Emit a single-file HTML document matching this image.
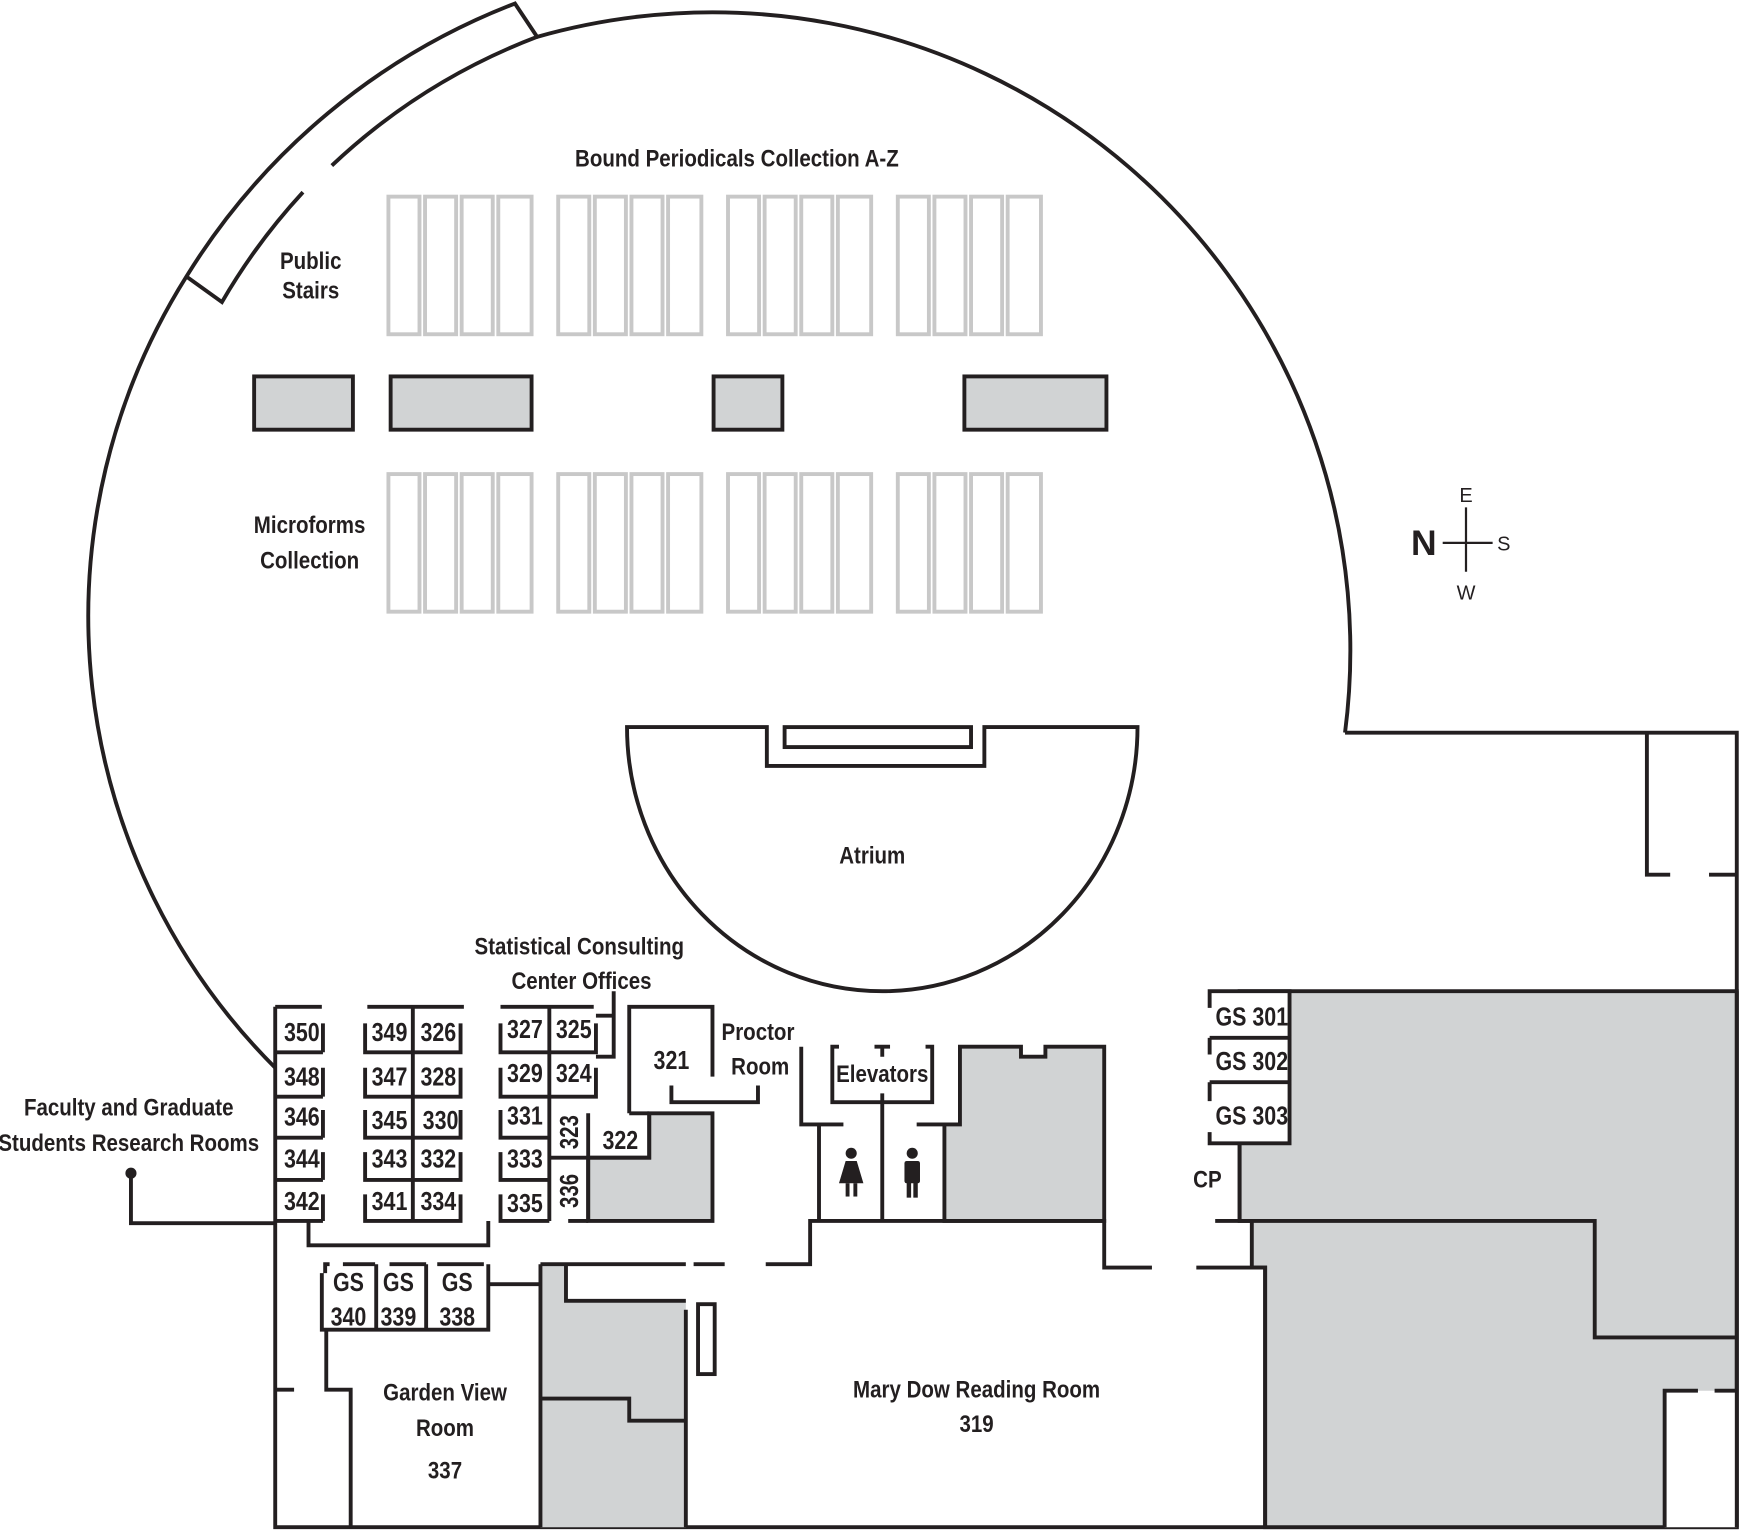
<!DOCTYPE html>
<html><head><meta charset="utf-8"><style>
html,body{margin:0;padding:0;background:#fff;}
svg{display:block;}
text{font-family:"Liberation Sans",sans-serif;font-weight:bold;fill:#231f20;text-anchor:middle;}
text.c{transform-box:fill-box;transform-origin:center;transform:scaleX(0.84);}
</style></head><body>
<svg width="1739" height="1533" viewBox="0 0 1567 1381" xmlns="http://www.w3.org/2000/svg">
<g fill="none" stroke="#231f20" stroke-width="3.5">
<path d="M1212 660 A575 575 0 0 0 484 33 L464 3 A600 600 0 0 0 168 249 A575 575 0 0 0 248 962"/>
<path d="M168 249 L200 272 A560 560 0 0 1 273 173"/>
<path d="M299 149 A560 560 0 0 1 484 33"/>
<path d="M1212 660 H1565 V1376 H248 V907"/>
<path d="M1484 660 V788 H1505 M1540 788 H1565"/>
</g>
<g fill="none" stroke="#c8c8c8" stroke-width="3.5">
<g id="row">
<rect x="350" y="177" width="28" height="124"/><rect x="383" y="177" width="28" height="124"/><rect x="416" y="177" width="28" height="124"/><rect x="449" y="177" width="30" height="124"/>
<rect x="503" y="177" width="28" height="124"/><rect x="536" y="177" width="28" height="124"/><rect x="569" y="177" width="28" height="124"/><rect x="602" y="177" width="30" height="124"/>
<rect x="656" y="177" width="28" height="124"/><rect x="689" y="177" width="28" height="124"/><rect x="722" y="177" width="28" height="124"/><rect x="755" y="177" width="30" height="124"/>
<rect x="809" y="177" width="28" height="124"/><rect x="842" y="177" width="28" height="124"/><rect x="875" y="177" width="28" height="124"/><rect x="908" y="177" width="30" height="124"/>
</g>
<use href="#row" y="250"/>
</g>
<g fill="#d1d3d4" stroke="#231f20" stroke-width="3.5">
<rect x="229" y="339" width="89" height="48"/><rect x="352" y="339" width="127" height="48"/><rect x="643" y="339" width="62" height="48"/><rect x="869" y="339" width="128" height="48"/>
<path d="M1117 893 H1565 V1376 H1140 V1142 H1128 V1100 H1117 Z"/>
<path d="M851 1100 V1013 H865 V943 H920 V952 H942 V943 H995 V1100 Z"/>
<path d="M585 1003 H642 V1100 H530 V1043 H585 Z"/>
<path d="M487 1139 H510 V1172 H618 V1376 H487 Z" stroke="none"/>
</g>
<g fill="#fff" stroke="none">
<rect x="1090" y="893" width="72" height="137"/>
<rect x="1500" y="1253" width="65" height="123"/>
</g>
<g fill="none" stroke="#231f20" stroke-width="3.5">
<path d="M1565 893 V1376"/>
<path d="M1090 908 V893 H1162 V1030 H1090 V1020 M1090 935 H1162 M1090 950 V935 M1090 975 H1162 M1090 992 V975"/>
<path d="M1117 1030 V1100 M1095 1100 H1437 V1205 H1565"/>
<path d="M1078 1142 H1140 V1376"/>
<path d="M1500 1376 V1253 H1530 M1545 1253 H1565"/>
<path d="M565 655 H691 V690 H887 V655 H1025 A230 238 0 0 1 565 655 Z"/>
<rect x="707" y="655" width="168" height="18"/>
<path d="M722 943 V1013 H760 M738 1013 V1100 M826 1013 H851"/>
<path d="M756 943 H750 V993 H840 V943 H834 M788 943 H802 M795 943 V952 M795 985 V1100"/>
<path d="M690 1139 H730 V1100 H995 V1142 H1038"/>
<path d="M487 1139 H618 M625 1139 H653 M487 1139 V1376 M510 1139 V1172 H618 M618 1180 V1376 M487 1260 H567 V1280 H618"/>
<rect x="629" y="1175" width="15" height="63"/>
<path d="M567 1003 V907 H642 V970 M605 978 V993 H683 V978 M567 1003 H585"/>
<path d="M537 915 H553 V952 H537 M553 915 V893"/>
<path d="M248 907 H290 M248 948 H291 M248 988 H291 M248 1025 H291 M248 1063 H291 M248 1100 H291"/>
<path d="M291 922 V948 M291 962 V988 M291 1000 V1025 M291 1038 V1063 M291 1076 V1100"/>
<path d="M331 907 H418 M372 907 V1100"/>
<path d="M329 922 V948 H415 V922 M329 962 V988 H415 V962 M329 1000 V1025 H415 V1000 M329 1038 V1063 H415 V1038 M329 1076 V1100 H415 V1076"/>
<path d="M451 907 H535 M495 907 V1100 M530 1003 V1100 M495 1043 H585 V1003"/>
<path d="M451 922 V948 H537 V922 M451 962 V988 H537 V962 M451 1000 V1025 H495 M451 1038 V1063 H495 M451 1076 V1100 H495 M512 1100 H530"/>
<path d="M278 1100 V1122 H440 V1100"/>
<path d="M118 1057 V1102 H248"/>
<path d="M293 1147 V1139 H297 M309 1139 H338 M339 1139 V1198 M351 1139 H384 M384 1139 V1198 M394 1139 H436 M440 1139 V1198 H290 V1147 M440 1157 H487"/>
<path d="M294 1198 V1252 H316 V1376 M248 1252 H265"/>
<path d="M1321 457 V515 M1300 489 H1345" stroke-width="2"/>
</g>
<circle cx="118" cy="1057" r="5" fill="#231f20"/>
<g fill="#231f20">
<circle cx="767" cy="1039" r="5"/><path d="M762 1046 H772 L778 1066 H756 Z"/><rect x="762" y="1066" width="3.5" height="12"/><rect x="769" y="1066" width="3.5" height="12"/>
<circle cx="822" cy="1039" r="5"/><rect x="815" y="1046" width="14" height="20" rx="2"/><rect x="817" y="1064" width="4" height="15"/><rect x="823" y="1064" width="4" height="15"/>
</g>
<g font-size="22">
<text class="c" x="664" y="150">Bound Periodicals Collection A-Z</text>
<text class="c" x="280" y="242">Public</text><text class="c" x="280" y="269">Stairs</text>
<text class="c" x="279" y="480">Microforms</text><text class="c" x="279" y="512">Collection</text>
<text class="c" x="786" y="778">Atrium</text>
<text class="c" x="522" y="860">Statistical Consulting</text><text class="c" x="524" y="891">Center Offices</text>
<text class="c" x="116" y="1005">Faculty and Graduate</text><text class="c" x="116" y="1037">Students Research Rooms</text>
<text class="c" x="683" y="937">Proctor</text><text class="c" x="685" y="968">Room</text>
<text class="c" x="795" y="975">Elevators</text>
<text class="c" x="880" y="1259">Mary Dow Reading Room</text><text class="c" x="880" y="1290">319</text>
<text class="c" x="401" y="1262">Garden View</text><text class="c" x="401" y="1294">Room</text><text class="c" x="401" y="1332">337</text>
<text class="c" x="1088" y="1070">CP</text>
</g>
<g font-size="23">
<text class="c" x="272" y="938">350</text><text class="c" x="272" y="978">348</text><text class="c" x="272" y="1014">346</text><text class="c" x="272" y="1052">344</text><text class="c" x="272" y="1090">342</text>
<text class="c" x="351" y="938">349</text><text class="c" x="395" y="938">326</text>
<text class="c" x="351" y="978">347</text><text class="c" x="395" y="978">328</text>
<text class="c" x="351" y="1017">345</text><text class="c" x="397" y="1017">330</text>
<text class="c" x="351" y="1052">343</text><text class="c" x="395" y="1052">332</text>
<text class="c" x="351" y="1090">341</text><text class="c" x="395" y="1090">334</text>
<text class="c" x="473" y="935">327</text><text class="c" x="517" y="935">325</text>
<text class="c" x="473" y="975">329</text><text class="c" x="517" y="975">324</text>
<text class="c" x="473" y="1013">331</text><text class="c" x="473" y="1052">333</text><text class="c" x="473" y="1092">335</text>
<text class="c" x="559" y="1035">322</text>
<text class="c" x="605" y="963">321</text>
<text transform="translate(521,1020) rotate(-90) scale(0.8,1)">323</text>
<text transform="translate(521,1073) rotate(-90) scale(0.8,1)">336</text>
<text class="c" x="314" y="1163">GS</text><text class="c" x="359" y="1163">GS</text><text class="c" x="412" y="1163">GS</text>
<text class="c" x="314" y="1194">340</text><text class="c" x="359" y="1194">339</text><text class="c" x="412" y="1194">338</text>
<text class="c" x="1128" y="924">GS 301</text><text class="c" x="1128" y="964">GS 302</text><text class="c" x="1128" y="1013">GS 303</text>
</g>
<text x="1283" y="500" font-size="32">N</text>
<g font-size="18">
<text x="1321" y="452" style="font-weight:normal">E</text>
<text x="1355" y="496" style="font-weight:normal">S</text>
<text x="1321" y="540" style="font-weight:normal">W</text>
</g>
</svg>
</body></html>
